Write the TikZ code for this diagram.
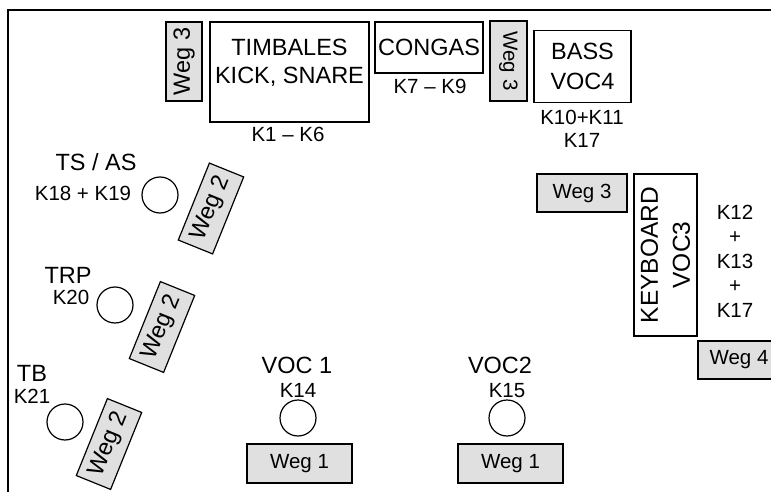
\documentclass[tikz,border=0pt]{standalone}
\usepackage{fontspec}
\setmainfont{Liberation Sans}
\usepackage{xcolor}
\definecolor{weggray}{RGB}{224,224,224}
\newcommand{\grosstext}{\fontsize{23.5}{28}\selectfont}
\newcommand{\kleintext}{\fontsize{20.5}{24.5}\selectfont}
\tikzset{%
  block/.style  = {draw, line width = 1.2pt, rectangle, inner sep = 0pt,
    align = center, font = \grosstext},
  weg/.style    = {draw, line width = 1.2pt, rectangle, fill = weggray,
    inner sep = 0pt, font = \kleintext}, % cable run
  mic/.style    = {draw, line width = 1.2pt, circle, minimum size = 36pt,
    inner sep = 0pt}, % microphone
  instr/.style  = {font = \grosstext, inner sep = 0pt, anchor = base},
  kanal/.style  = {font = \kleintext, inner sep = 0pt, anchor = base,
    align = center}
}

\begin{document}
\begin{tikzpicture}[x = 1pt, y = -1pt]
\useasboundingbox (0,0) rectangle (771,492);
%stage frame
\draw[line width = 1.2pt] (8,500) -- (8,10) -- (780,10);
%drums and bass
\draw
	(184,61.5) node [weg, rotate = 90, minimum width = 79pt, minimum height = 36pt, font = \grosstext] (weg3a) {Weg 3}
	(289.5,72) node [block, minimum width = 159pt, minimum height = 100pt] (timbales) {}
	(289.5,62.8) node [instr, anchor = center, align = center] (timbalestext) {TIMBALES\\KICK, SNARE}
	(429,47.5) node [block, minimum width = 108pt, minimum height = 51pt] (congas) {CONGAS}
	(508.5,61) node [weg, rotate = -90, minimum width = 80pt, minimum height = 37pt] (weg3b) {Weg 3}
	(582.5,66.5) node [block, minimum width = 97pt, minimum height = 72pt, font = \fontsize{23.5}{30}\selectfont] (bass) {BASS\\VOC4};
\draw
	(288,142) node [kanal] (k1) {K1 – K6}
	(430,94) node [kanal] (k7) {K7 – K9}
	(582,128.4) node [kanal, anchor = center, font = \fontsize{20.5}{23}\selectfont] (k10) {K10+K11\\K17};
%keyboard
\draw
	(582,193) node [weg, minimum width = 90pt, minimum height = 38pt] (weg3c) {Weg 3}
	(665.5,255) node [block, rotate = 90, minimum width = 162pt, minimum height = 63pt, font = \fontsize{24.5}{32}\selectfont] (keyboard) {KEYBOARD\\VOC3}
	(735,261) node [kanal, anchor = center] (k12) {K12\\+\\K13\\+\\K17}
	(739,360) node [weg, minimum width = 82pt, minimum height = 38pt] (weg4) {Weg 4};
%horns
\draw
	(160,195) node [mic] (tsas) {}
	(96,170) node [instr] (tsastext) {TS / AS}
	(83,200) node [kanal] (k18) {K18 + K19}
	(211,208.5) node [weg, rotate = 68, minimum width = 83pt, minimum height = 37pt, font = \grosstext] (weg2a) {Weg 2}
	(115,305) node [mic] (trp) {}
	(68,283) node [instr] (trptext) {TRP}
	(71,304) node [kanal] (k20) {K20}
	(162,327) node [weg, rotate = 68, minimum width = 83pt, minimum height = 37pt, font = \grosstext] (weg2b) {Weg 2}
	(65,422) node [mic] (tb) {}
	(32,381) node [instr] (tbtext) {TB}
	(32,403) node [kanal] (k21) {K21}
	(109,444) node [weg, rotate = 68, minimum width = 83pt, minimum height = 37pt, font = \grosstext] (weg2c) {Weg 2};
%vocals
\draw
	(298,418) node [mic] (voc1) {}
	(297,373) node [instr] (voc1text) {VOC 1}
	(298,397) node [kanal] (k14) {K14}
	(299.5,463.5) node [weg, minimum width = 105pt, minimum height = 39pt] (weg1a) {Weg 1}
	(507,418) node [mic] (voc2) {}
	(500,373) node [instr] (voc2text) {VOC2}
	(507,397) node [kanal] (k15) {K15}
	(510.5,463.5) node [weg, minimum width = 105pt, minimum height = 39pt] (weg1b) {Weg 1};
\end{tikzpicture}
\end{document}
